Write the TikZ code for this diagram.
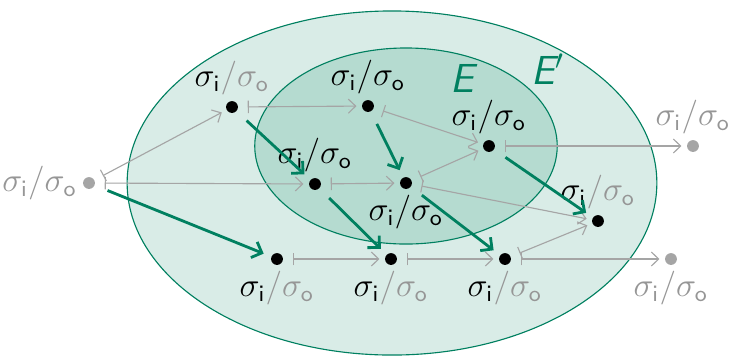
\documentclass[tikz,border=0pt]{standalone}
\usepackage{xcolor}
\usepackage{tikz}
\usetikzlibrary{arrows.meta}
\definecolor{EdgeGreen}{RGB}{0,128,96}
\definecolor{OuterFill}{RGB}{217,236,231}
\definecolor{InnerFill}{RGB}{181,219,208}
\definecolor{PathGray}{RGB}{165,165,165}
\definecolor{TextGray}{RGB}{150,150,150}
\newcommand{\sigIn}{\sigma_{\mathsf{i}}}
\newcommand{\sigOut}{\sigma_{\mathsf{o}}}
% black, half grey and grey labels
\newcommand{\ioFull}{$\sigIn/\sigOut$}
\newcommand{\ioHalf}{$\sigIn$\textcolor{TextGray}{$/\sigOut$}}
\newcommand{\ioNone}{\textcolor{TextGray}{$\sigIn/\sigOut$}}

\begin{document}
\begin{tikzpicture}[x=0.0125cm,y=-0.0125cm,font=\large,
    state/.style={circle,fill=black,inner sep=0pt,minimum size=4.2pt,outer sep=2pt},
    ghost/.style={state,fill=PathGray},
    lab/.style={inner sep=0pt,label distance=0pt},
    pass/.style={draw=PathGray,line width=0.4pt,
      {Bar[width=4.5pt]}-{Straight Barb[length=2.6pt,width=5pt]},shorten <=1.5pt},
    jump/.style={draw=EdgeGreen,line width=1pt,
      -{Straight Barb[length=3pt,width=6pt]},shorten <=3pt,shorten >=1pt}]
  \useasboundingbox (0,0) rectangle (729,356);

  % the two sets
  \draw[EdgeGreen,fill=OuterFill] (392,183) ellipse [x radius=3.31cm,y radius=2.15cm];
  \draw[EdgeGreen,fill=InnerFill] (406,146) ellipse [x radius=1.89cm,y radius=1.225cm];
  \node[text=EdgeGreen,font=\Large\sffamily\itshape] (setE) at (462,78) {E};
  \node[text=EdgeGreen,font=\Large\sffamily\itshape] (setEp) at (548,69) {E$'$};

  % states
  \node[ghost] (L) at (89,183) {};
  \node[state] (A) at (232,107) {};
  \node[state] (B) at (368,106) {};
  \node[state] (C) at (489,146) {};
  \node[state] (D) at (315,184) {};
  \node[state] (F) at (406,183) {};
  \node[state] (G) at (598,221) {};
  \node[state] (H) at (277,259) {};
  \node[state] (I) at (391,259) {};
  \node[state] (J) at (505,259) {};
  \node[ghost] (R1) at (693,146) {};
  \node[ghost] (R2) at (671,259) {};

  \node[lab,anchor=east] at (L.west) {\ioNone};
  \node[lab,anchor=south] at (A.north) {\ioHalf};
  \node[lab,anchor=south] at (B.north) {\ioFull};
  \node[lab,anchor=south] at (C.north) {\ioFull};
  \node[lab,anchor=south] at (D.north) {\ioFull};
  \node[lab,anchor=north] at (F.south) {\ioFull};
  \node[lab,anchor=south] at (G.north) {\ioHalf};
  \node[lab,anchor=north] at (H.south) {\ioHalf};
  \node[lab,anchor=north] at (I.south) {\ioHalf};
  \node[lab,anchor=north] at (J.south) {\ioHalf};
  \node[lab,anchor=south] at (R1.north) {\ioNone};
  \node[lab,anchor=north] at (R2.south) {\ioNone};

  % grey transitions
  \foreach \a/\b in {L/A,L/D,A/B,B/C,D/F,F/C,F/G,C/R1,H/I,I/J,J/R2,J/G}{
    \draw[pass] (\a) -- (\b);
  }
  % green transitions
  \foreach \a/\b in {L/H,A/D,B/F,D/I,F/J,C/G}{
    \draw[jump] (\a) -- (\b);
  }
\end{tikzpicture}
\end{document}
